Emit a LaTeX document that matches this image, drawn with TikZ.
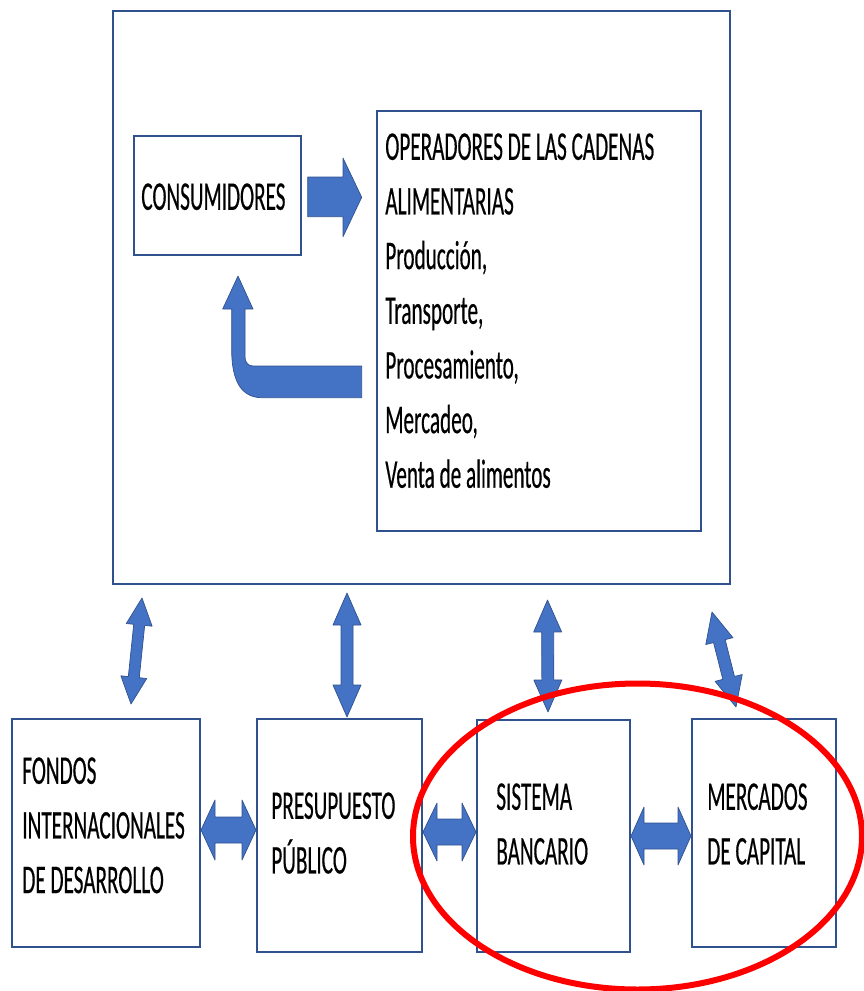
\documentclass[tikz,border=0pt]{standalone}
\usepackage{fontspec}
\setmainfont{Carlito}[FakeStretch=0.52, FakeBold=0.4]
\usepackage{tikz}
\usetikzlibrary{calc,positioning}

\definecolor{boxblue}{HTML}{2F528F}
\definecolor{arrowblue}{HTML}{4472C4}

\tikzset{
  box/.style={draw=boxblue, line width=0.4mm, anchor=north west, inner sep=0pt},
  txt/.style={anchor=north west, inner sep=0pt, align=left, font=\fontsize{23.2}{31.1}\selectfont},
  blockarrow/.style={fill=arrowblue, draw=boxblue, line width=0.4pt, line join=round}
}

% double block arrow: tips #1 and #2, head length #3, head half width #4, shaft half width #5
\newcommand{\dblarrow}[5]{%
  \draw[blockarrow] (#1)
    -- ($($(#1)!#3!(#2)$)!#4!90:(#2)$)
    -- ($($(#1)!#3!(#2)$)!#5!90:(#2)$)
    -- ($($(#2)!#3!(#1)$)!#5!-90:(#1)$)
    -- ($($(#2)!#3!(#1)$)!#4!-90:(#1)$)
    -- (#2)
    -- ($($(#2)!#3!(#1)$)!#4!90:(#1)$)
    -- ($($(#2)!#3!(#1)$)!#5!90:(#1)$)
    -- ($($(#1)!#3!(#2)$)!#5!-90:(#2)$)
    -- ($($(#1)!#3!(#2)$)!#4!-90:(#2)$)
    -- cycle;}

\begin{document}
\begin{tikzpicture}[x=0.2mm, y=-0.2mm]
    \useasboundingbox (0,0) rectangle (864,991);

    % upper block
    \node[box, minimum width=123.4mm, minimum height=114.6mm] (cadena) at (112,10) {};
    \node[box, minimum width=33.4mm, minimum height=23.8mm] (consum) at (133,135) {};
    \node[txt] (consumtxt) at ([shift={(8,48)}]consum.north west) {CONSUMIDORES};
    \node[box, minimum width=64.8mm, minimum height=84mm] (operad) at (376,110) {};
    \node[txt] (operadtxt) at ([shift={(9,23)}]operad.north west)
        {OPERADORES DE LAS CADENAS\\ALIMENTARIAS\\Producción,\\Transporte,\\Procesamiento,\\Mercadeo,\\Venta de alimentos};

    % arrows between consumers and operators
    \draw[blockarrow] (307.7,177) -- (343,177) -- (343,158) -- (361.7,197.3)
        -- (343,236.7) -- (343,216.7) -- (307.7,216.7) -- cycle;
    \draw[blockarrow] (361.7,366) -- (253,366) .. controls (248,366) and (245,362) .. (245,357)
        -- (245,309) -- (253,309) -- (238,276) -- (222.7,309) -- (231.7,309) -- (231.7,350)
        .. controls (231.7,382) and (242,397.7) .. (262,397.7) -- (361.7,397.7) -- cycle;

    % lower blocks
    \node[box, minimum width=37.6mm, minimum height=45.6mm] (fondos) at (11,718) {};
    \node[txt] (fondostxt) at ([shift={(11,39)}]fondos.north west)
        {FONDOS\\INTERNACIONALES\\DE DESARROLLO};
    \node[box, minimum width=33mm, minimum height=46.6mm] (presup) at (256,718) {};
    \node[txt] (presuptxt) at ([shift={(15,74)}]presup.north west) {PRESUPUESTO\\PÚBLICO};
    \node[box, minimum width=30.6mm, minimum height=46.4mm] (banco) at (476,719) {};
    \node[txt] (bancotxt) at ([shift={(20,64)}]banco.north west) {SISTEMA\\BANCARIO};
    \node[box, minimum width=28.8mm, minimum height=45.6mm] (mercado) at (691,718) {};
    \node[txt] (mercadotxt) at ([shift={(16,65)}]mercado.north west) {MERCADOS\\DE CAPITAL};

    % vertical double arrows
    \coordinate (v1a) at (142,598);   \coordinate (v1b) at (131,704);
    \coordinate (v2a) at (347,593);   \coordinate (v2b) at (347,717);
    \coordinate (v3a) at (547.5,600); \coordinate (v3b) at (548,712);
    \coordinate (v4a) at (712,612);   \coordinate (v4b) at (736,707);
    \dblarrow{v1a}{v1b}{5.4mm}{2.6mm}{1.1mm}
    \dblarrow{v2a}{v2b}{6.4mm}{2.8mm}{1.2mm}
    \dblarrow{v3a}{v3b}{6.4mm}{2.8mm}{1.2mm}
    \dblarrow{v4a}{v4b}{6mm}{2.8mm}{1.2mm}

    % horizontal double arrows
    \dblarrow{fondos.east |- 0,830}{presup.west |- 0,830}{2.8mm}{6mm}{2.6mm}
    \dblarrow{presup.east |- 0,832}{banco.west |- 0,832}{2.8mm}{5.8mm}{2.6mm}
    \dblarrow{banco.east |- 0,836}{mercado.west |- 0,836}{2.6mm}{5.8mm}{2.6mm}

    % highlight
    \draw[red, line width=1.2mm] (637.5,836.5) ellipse [x radius=44.9mm, y radius=30.6mm];
\end{tikzpicture}
\end{document}
